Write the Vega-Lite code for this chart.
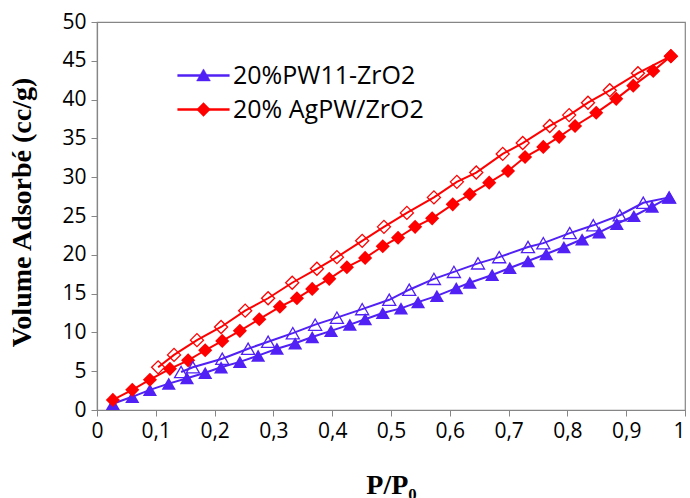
{
  "$schema": "https://vega.github.io/schema/vega-lite/v6.json",
  "width": 588,
  "height": 388,
  "autosize": {"type": "none"},
  "padding": {"left": 97, "top": 22, "right": 5, "bottom": 88},
  "background": "white",
  "config": {
    "view": {"stroke": "#868686", "strokeWidth": 1.2},
    "font": "Open Sans",
    "axis": {
      "grid": false,
      "domainColor": "#868686",
      "domainWidth": 1.2,
      "tickColor": "#868686",
      "tickSize": 6,
      "labelColor": "#000000",
      "labelFont": "Open Sans",
      "labelFontSize": 21,
      "titleFont": "Liberation Serif",
      "titleFontWeight": "bold",
      "titleFontSize": 28,
      "titleColor": "#000000"
    }
  },
  "data": {
    "values": [
      {"sample": "20%PW11-ZrO2", "branch": "ads", "x": 0.027, "y": 0.8},
      {"sample": "20%PW11-ZrO2", "branch": "ads", "x": 0.060, "y": 1.7},
      {"sample": "20%PW11-ZrO2", "branch": "ads", "x": 0.090, "y": 2.6},
      {"sample": "20%PW11-ZrO2", "branch": "ads", "x": 0.122, "y": 3.4},
      {"sample": "20%PW11-ZrO2", "branch": "ads", "x": 0.153, "y": 4.1},
      {"sample": "20%PW11-ZrO2", "branch": "ads", "x": 0.184, "y": 4.8},
      {"sample": "20%PW11-ZrO2", "branch": "ads", "x": 0.211, "y": 5.5},
      {"sample": "20%PW11-ZrO2", "branch": "ads", "x": 0.243, "y": 6.2},
      {"sample": "20%PW11-ZrO2", "branch": "ads", "x": 0.274, "y": 7.0},
      {"sample": "20%PW11-ZrO2", "branch": "ads", "x": 0.306, "y": 7.9},
      {"sample": "20%PW11-ZrO2", "branch": "ads", "x": 0.337, "y": 8.6},
      {"sample": "20%PW11-ZrO2", "branch": "ads", "x": 0.366, "y": 9.4},
      {"sample": "20%PW11-ZrO2", "branch": "ads", "x": 0.398, "y": 10.2},
      {"sample": "20%PW11-ZrO2", "branch": "ads", "x": 0.430, "y": 11.0},
      {"sample": "20%PW11-ZrO2", "branch": "ads", "x": 0.456, "y": 11.7},
      {"sample": "20%PW11-ZrO2", "branch": "ads", "x": 0.486, "y": 12.5},
      {"sample": "20%PW11-ZrO2", "branch": "ads", "x": 0.517, "y": 13.1},
      {"sample": "20%PW11-ZrO2", "branch": "ads", "x": 0.546, "y": 13.9},
      {"sample": "20%PW11-ZrO2", "branch": "ads", "x": 0.578, "y": 14.7},
      {"sample": "20%PW11-ZrO2", "branch": "ads", "x": 0.611, "y": 15.7},
      {"sample": "20%PW11-ZrO2", "branch": "ads", "x": 0.634, "y": 16.4},
      {"sample": "20%PW11-ZrO2", "branch": "ads", "x": 0.672, "y": 17.4},
      {"sample": "20%PW11-ZrO2", "branch": "ads", "x": 0.702, "y": 18.3},
      {"sample": "20%PW11-ZrO2", "branch": "ads", "x": 0.733, "y": 19.2},
      {"sample": "20%PW11-ZrO2", "branch": "ads", "x": 0.764, "y": 20.1},
      {"sample": "20%PW11-ZrO2", "branch": "ads", "x": 0.794, "y": 21.0},
      {"sample": "20%PW11-ZrO2", "branch": "ads", "x": 0.825, "y": 22.0},
      {"sample": "20%PW11-ZrO2", "branch": "ads", "x": 0.854, "y": 22.9},
      {"sample": "20%PW11-ZrO2", "branch": "ads", "x": 0.884, "y": 24.0},
      {"sample": "20%PW11-ZrO2", "branch": "ads", "x": 0.913, "y": 25.0},
      {"sample": "20%PW11-ZrO2", "branch": "ads", "x": 0.944, "y": 26.2},
      {"sample": "20%PW11-ZrO2", "branch": "ads", "x": 0.973, "y": 27.4},
      {"sample": "20%PW11-ZrO2", "branch": "des", "x": 0.973, "y": 27.4},
      {"sample": "20%PW11-ZrO2", "branch": "des", "x": 0.929, "y": 26.7},
      {"sample": "20%PW11-ZrO2", "branch": "des", "x": 0.889, "y": 25.1},
      {"sample": "20%PW11-ZrO2", "branch": "des", "x": 0.844, "y": 23.8},
      {"sample": "20%PW11-ZrO2", "branch": "des", "x": 0.804, "y": 22.8},
      {"sample": "20%PW11-ZrO2", "branch": "des", "x": 0.759, "y": 21.5},
      {"sample": "20%PW11-ZrO2", "branch": "des", "x": 0.733, "y": 21.0},
      {"sample": "20%PW11-ZrO2", "branch": "des", "x": 0.684, "y": 19.7},
      {"sample": "20%PW11-ZrO2", "branch": "des", "x": 0.648, "y": 18.9},
      {"sample": "20%PW11-ZrO2", "branch": "des", "x": 0.607, "y": 17.8},
      {"sample": "20%PW11-ZrO2", "branch": "des", "x": 0.573, "y": 16.9},
      {"sample": "20%PW11-ZrO2", "branch": "des", "x": 0.531, "y": 15.5},
      {"sample": "20%PW11-ZrO2", "branch": "des", "x": 0.497, "y": 14.2},
      {"sample": "20%PW11-ZrO2", "branch": "des", "x": 0.451, "y": 13.0},
      {"sample": "20%PW11-ZrO2", "branch": "des", "x": 0.408, "y": 11.9},
      {"sample": "20%PW11-ZrO2", "branch": "des", "x": 0.371, "y": 11.0},
      {"sample": "20%PW11-ZrO2", "branch": "des", "x": 0.333, "y": 9.9},
      {"sample": "20%PW11-ZrO2", "branch": "des", "x": 0.291, "y": 8.8},
      {"sample": "20%PW11-ZrO2", "branch": "des", "x": 0.257, "y": 7.9},
      {"sample": "20%PW11-ZrO2", "branch": "des", "x": 0.213, "y": 6.6},
      {"sample": "20%PW11-ZrO2", "branch": "des", "x": 0.163, "y": 5.5},
      {"sample": "20%PW11-ZrO2", "branch": "des", "x": 0.143, "y": 4.9},
      {"sample": "20% AgPW/ZrO2", "branch": "ads", "x": 0.027, "y": 1.3},
      {"sample": "20% AgPW/ZrO2", "branch": "ads", "x": 0.060, "y": 2.6},
      {"sample": "20% AgPW/ZrO2", "branch": "ads", "x": 0.090, "y": 3.9},
      {"sample": "20% AgPW/ZrO2", "branch": "ads", "x": 0.124, "y": 5.3},
      {"sample": "20% AgPW/ZrO2", "branch": "ads", "x": 0.155, "y": 6.4},
      {"sample": "20% AgPW/ZrO2", "branch": "ads", "x": 0.184, "y": 7.7},
      {"sample": "20% AgPW/ZrO2", "branch": "ads", "x": 0.213, "y": 8.9},
      {"sample": "20% AgPW/ZrO2", "branch": "ads", "x": 0.243, "y": 10.2},
      {"sample": "20% AgPW/ZrO2", "branch": "ads", "x": 0.276, "y": 11.7},
      {"sample": "20% AgPW/ZrO2", "branch": "ads", "x": 0.311, "y": 13.3},
      {"sample": "20% AgPW/ZrO2", "branch": "ads", "x": 0.340, "y": 14.4},
      {"sample": "20% AgPW/ZrO2", "branch": "ads", "x": 0.366, "y": 15.6},
      {"sample": "20% AgPW/ZrO2", "branch": "ads", "x": 0.395, "y": 16.9},
      {"sample": "20% AgPW/ZrO2", "branch": "ads", "x": 0.425, "y": 18.4},
      {"sample": "20% AgPW/ZrO2", "branch": "ads", "x": 0.456, "y": 19.6},
      {"sample": "20% AgPW/ZrO2", "branch": "ads", "x": 0.486, "y": 21.1},
      {"sample": "20% AgPW/ZrO2", "branch": "ads", "x": 0.512, "y": 22.2},
      {"sample": "20% AgPW/ZrO2", "branch": "ads", "x": 0.541, "y": 23.6},
      {"sample": "20% AgPW/ZrO2", "branch": "ads", "x": 0.570, "y": 24.7},
      {"sample": "20% AgPW/ZrO2", "branch": "ads", "x": 0.605, "y": 26.5},
      {"sample": "20% AgPW/ZrO2", "branch": "ads", "x": 0.634, "y": 27.8},
      {"sample": "20% AgPW/ZrO2", "branch": "ads", "x": 0.667, "y": 29.3},
      {"sample": "20% AgPW/ZrO2", "branch": "ads", "x": 0.699, "y": 30.8},
      {"sample": "20% AgPW/ZrO2", "branch": "ads", "x": 0.728, "y": 32.6},
      {"sample": "20% AgPW/ZrO2", "branch": "ads", "x": 0.759, "y": 33.9},
      {"sample": "20% AgPW/ZrO2", "branch": "ads", "x": 0.786, "y": 35.2},
      {"sample": "20% AgPW/ZrO2", "branch": "ads", "x": 0.813, "y": 36.6},
      {"sample": "20% AgPW/ZrO2", "branch": "ads", "x": 0.849, "y": 38.3},
      {"sample": "20% AgPW/ZrO2", "branch": "ads", "x": 0.883, "y": 40.1},
      {"sample": "20% AgPW/ZrO2", "branch": "ads", "x": 0.912, "y": 41.8},
      {"sample": "20% AgPW/ZrO2", "branch": "ads", "x": 0.946, "y": 43.7},
      {"sample": "20% AgPW/ZrO2", "branch": "ads", "x": 0.976, "y": 45.6},
      {"sample": "20% AgPW/ZrO2", "branch": "des", "x": 0.976, "y": 45.6},
      {"sample": "20% AgPW/ZrO2", "branch": "des", "x": 0.920, "y": 43.4},
      {"sample": "20% AgPW/ZrO2", "branch": "des", "x": 0.872, "y": 41.2},
      {"sample": "20% AgPW/ZrO2", "branch": "des", "x": 0.835, "y": 39.6},
      {"sample": "20% AgPW/ZrO2", "branch": "des", "x": 0.803, "y": 38.0},
      {"sample": "20% AgPW/ZrO2", "branch": "des", "x": 0.770, "y": 36.6},
      {"sample": "20% AgPW/ZrO2", "branch": "des", "x": 0.724, "y": 34.4},
      {"sample": "20% AgPW/ZrO2", "branch": "des", "x": 0.690, "y": 33.0},
      {"sample": "20% AgPW/ZrO2", "branch": "des", "x": 0.645, "y": 30.6},
      {"sample": "20% AgPW/ZrO2", "branch": "des", "x": 0.612, "y": 29.4},
      {"sample": "20% AgPW/ZrO2", "branch": "des", "x": 0.573, "y": 27.4},
      {"sample": "20% AgPW/ZrO2", "branch": "des", "x": 0.527, "y": 25.4},
      {"sample": "20% AgPW/ZrO2", "branch": "des", "x": 0.488, "y": 23.6},
      {"sample": "20% AgPW/ZrO2", "branch": "des", "x": 0.451, "y": 21.8},
      {"sample": "20% AgPW/ZrO2", "branch": "des", "x": 0.408, "y": 19.7},
      {"sample": "20% AgPW/ZrO2", "branch": "des", "x": 0.374, "y": 18.2},
      {"sample": "20% AgPW/ZrO2", "branch": "des", "x": 0.332, "y": 16.4},
      {"sample": "20% AgPW/ZrO2", "branch": "des", "x": 0.291, "y": 14.4},
      {"sample": "20% AgPW/ZrO2", "branch": "des", "x": 0.252, "y": 12.8},
      {"sample": "20% AgPW/ZrO2", "branch": "des", "x": 0.211, "y": 10.7},
      {"sample": "20% AgPW/ZrO2", "branch": "des", "x": 0.170, "y": 9.0},
      {"sample": "20% AgPW/ZrO2", "branch": "des", "x": 0.131, "y": 7.1},
      {"sample": "20% AgPW/ZrO2", "branch": "des", "x": 0.104, "y": 5.5}
    ]
  },
  "encoding": {
    "x": {
      "field": "x", "type": "quantitative",
      "scale": {"domain": [0, 1], "nice": false, "zero": false},
      "axis": {
        "title": "P/P₀",
        "values": [0, 0.1, 0.2, 0.3, 0.4, 0.5, 0.6, 0.7, 0.8, 0.9, 1],
        "labelExpr": "datum.value == 0 ? '0' : datum.value == 1 ? '1' : replace(format(datum.value, '.1f'), '.', ',')",
        "labelAlign": {"condition": {"test": "datum.value == 1", "value": "right"}, "value": "center"},
        "labelPadding": 4,
        "titleY": 75,
        "titleBaseline": "middle",
        "labelFlush": false
      }
    },
    "y": {
      "field": "y", "type": "quantitative",
      "scale": {"domain": [0, 50], "nice": false},
      "axis": {
        "title": "Volume Adsorbé (cc/g)",
        "values": [0, 5, 10, 15, 20, 25, 30, 35, 40, 45, 50],
        "labelPadding": 5,
        "titleX": -75,
        "titleY": 190,
        "titleBaseline": "middle",
        "titleAlign": "center",
        "labelFlush": false
      }
    },
    "color": {
      "field": "sample", "type": "nominal",
      "scale": {"domain": ["20%PW11-ZrO2", "20% AgPW/ZrO2"], "range": ["#5020F5", "#FF0000"]},
      "legend": {
        "title": null,
        "orient": "none",
        "legendX": 94,
        "legendY": 41,
        "padding": 0,
        "symbolSize": 144,
        "symbolType": {"expr": "datum.value === '20%PW11-ZrO2' ? 'M-4.3,-0.17H4.3V0.17H-4.3Z M0,-1.1L1.15,0.9L-1.15,0.9Z' : 'M-4.3,-0.17H4.3V0.17H-4.3Z M0,-1.15L1.15,0L0,1.15L-1.15,0Z'"},
        "symbolStrokeWidth": 0.5,
        "labelFont": "Open Sans",
        "labelFontSize": 25,
        "labelLimit": 400,
        "labelColor": "#000000",
        "labelOffset": 17,
        "rowPadding": 8
      }
    }
  },
  "layer": [
    {
      "mark": {"type": "line", "strokeWidth": 2},
      "encoding": {"detail": {"field": "branch", "type": "nominal"}}
    },
    {
      "transform": [{"filter": "datum.branch === 'ads' && datum.sample === '20%PW11-ZrO2'"}],
      "mark": {"type": "point", "shape": "triangle-up", "filled": true, "size": 200, "opacity": 1}
    },
    {
      "transform": [{"filter": "datum.branch === 'ads' && datum.sample === '20% AgPW/ZrO2'"}],
      "mark": {"type": "point", "shape": "diamond", "filled": true, "size": 200, "opacity": 1}
    },
    {
      "transform": [{"filter": "datum.branch === 'des' && datum.sample === '20%PW11-ZrO2'"}],
      "mark": {"type": "point", "shape": "triangle-up", "filled": false, "size": 170, "strokeWidth": 1.3, "opacity": 1}
    },
    {
      "transform": [{"filter": "datum.branch === 'des' && datum.sample === '20% AgPW/ZrO2'"}],
      "mark": {"type": "point", "shape": "diamond", "filled": false, "size": 170, "strokeWidth": 1.3, "opacity": 1}
    }
  ]
}
